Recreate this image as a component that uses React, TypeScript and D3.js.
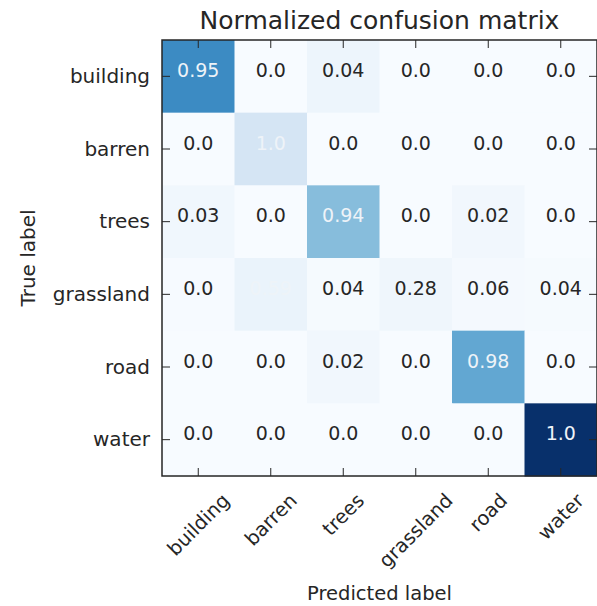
import React, { useEffect, useRef } from 'react';
import * as d3 from 'd3';

// class names, true label rows / predicted label columns
const classes = ['building', 'barren', 'trees', 'grassland', 'road', 'water'];

// normalized values written in each cell
const normalized = [
  [0.95, 0.0, 0.04, 0.0, 0.0, 0.0],
  [0.0, 1.0, 0.0, 0.0, 0.0, 0.0],
  [0.03, 0.0, 0.94, 0.0, 0.02, 0.0],
  [0.0, 0.59, 0.04, 0.28, 0.06, 0.04],
  [0.0, 0.0, 0.02, 0.0, 0.98, 0.0],
  [0.0, 0.0, 0.0, 0.0, 0.0, 1.0],
];

// colour intensity of each cell (Blues map, 0..1)
const shade = [
  [0.65, 0.0, 0.05, 0.0, 0.0, 0.0],
  [0.0, 0.17, 0.0, 0.0, 0.0, 0.0],
  [0.035, 0.0, 0.43, 0.0, 0.03, 0.0],
  [0.005, 0.065, 0.01, 0.04, 0.015, 0.01],
  [0.0, 0.0, 0.03, 0.0, 0.53, 0.0],
  [0.0, 0.0, 0.0, 0.0, 0.0, 1.0],
];

const threshold = 0.5;

const fmt = (v: number) => (Number.isInteger(v) ? v.toFixed(1) : String(v));

const App = () => {
  const svgRef = useRef<SVGSVGElement>(null);

  useEffect(() => {
    const w = 597;
    const h = 606;
    const left = 162;
    const right = 597;
    const top = 40;
    const bottom = 476;
    const font = 'DejaVu Sans';
    const ink = '#262626';

    const svg = d3.select(svgRef.current).attr('width', w).attr('height', h);
    svg.selectAll('*').remove();
    svg.append('rect').attr('width', w).attr('height', h).attr('fill', 'white');

    const x = d3.scaleBand().domain(classes).range([left, right]);
    const y = d3.scaleBand().domain(classes).range([top, bottom]);
    const color = d3.scaleSequential(d3.interpolateBlues).domain([0, 1]);

    const cells = normalized.flatMap((row, i) =>
      row.map((v, j) => ({ i, j, v, s: shade[i][j] }))
    );

    svg
      .append('g')
      .selectAll('rect')
      .data(cells)
      .join('rect')
      .attr('x', (d) => x(classes[d.j])!)
      .attr('y', (d) => y(classes[d.i])!)
      .attr('width', x.bandwidth() + 0.5)
      .attr('height', y.bandwidth() + 0.5)
      .attr('fill', (d) => color(d.s));

    svg
      .append('g')
      .selectAll('text')
      .data(cells)
      .join('text')
      .attr('x', (d) => x(classes[d.j])! + x.bandwidth() / 2)
      .attr('y', (d) => y(classes[d.i])! + y.bandwidth() / 2 + 0.5)
      .attr('text-anchor', 'middle')
      .style('font-family', font)
      .style('font-size', '19px')
      .attr('fill', (d) => (d.v > threshold ? '#eef3f8' : ink))
      .text((d) => fmt(d.v));

    // ticks pointing inward on all four sides
    const tickLen = 8;
    const ticks = svg.append('g').attr('stroke', ink).attr('stroke-width', 1);
    classes.forEach((c) => {
      const cx = x(c)! + x.bandwidth() / 2;
      const cy = y(c)! + y.bandwidth() / 2;
      ticks.append('line').attr('x1', cx).attr('x2', cx).attr('y1', top).attr('y2', top + tickLen);
      ticks.append('line').attr('x1', cx).attr('x2', cx).attr('y1', bottom).attr('y2', bottom - tickLen);
      ticks.append('line').attr('x1', left).attr('x2', left + tickLen).attr('y1', cy).attr('y2', cy);
      ticks.append('line').attr('x1', right).attr('x2', right - tickLen).attr('y1', cy).attr('y2', cy);
    });

    svg
      .append('rect')
      .attr('x', left)
      .attr('y', top)
      .attr('width', right - left)
      .attr('height', bottom - top)
      .attr('fill', 'none')
      .attr('stroke', ink)
      .attr('stroke-width', 1.5);

    // y tick labels
    svg
      .append('g')
      .selectAll('text')
      .data(classes)
      .join('text')
      .attr('x', left - 12)
      .attr('y', (d) => y(d)! + y.bandwidth() / 2 + 6.5)
      .attr('text-anchor', 'end')
      .style('font-family', font)
      .style('font-size', '20px')
      .attr('fill', ink)
      .text((d) => d);

    // x tick labels, rotated 45 degrees and centred under each tick
    const fs = 19.5;
    const lineH = 1.164 * fs;
    const xLabels = svg
      .append('g')
      .selectAll('text')
      .data(classes)
      .join('text')
      .attr('text-anchor', 'middle')
      .attr('y', 0.346 * fs)
      .style('font-family', font)
      .style('font-size', fs + 'px')
      .attr('fill', ink)
      .text((d) => d);
    xLabels.each(function (d) {
      const len = (this as SVGTextElement).getComputedTextLength();
      const half = (len + lineH) / (2 * Math.SQRT2);
      d3.select(this).attr(
        'transform',
        `translate(${x(d)! + x.bandwidth() / 2},${489 + half}) rotate(-45)`
      );
    });

    svg
      .append('text')
      .attr('x', (left + right) / 2)
      .attr('y', 29)
      .attr('text-anchor', 'middle')
      .style('font-family', font)
      .style('font-size', '25px')
      .attr('fill', ink)
      .text('Normalized confusion matrix');

    svg
      .append('text')
      .attr('x', (left + right) / 2)
      .attr('y', 600)
      .attr('text-anchor', 'middle')
      .style('font-family', font)
      .style('font-size', '19.5px')
      .attr('fill', ink)
      .text('Predicted label');

    svg
      .append('text')
      .attr('transform', `translate(35,${(top + bottom) / 2}) rotate(-90)`)
      .attr('text-anchor', 'middle')
      .style('font-family', font)
      .style('font-size', '20px')
      .attr('fill', ink)
      .text('True label');
  }, []);

  return (
    <div style={{ position: 'absolute', left: 0, top: 0 }}>
      <svg ref={svgRef} style={{ display: 'block' }}></svg>
    </div>
  );
};

export default App;
